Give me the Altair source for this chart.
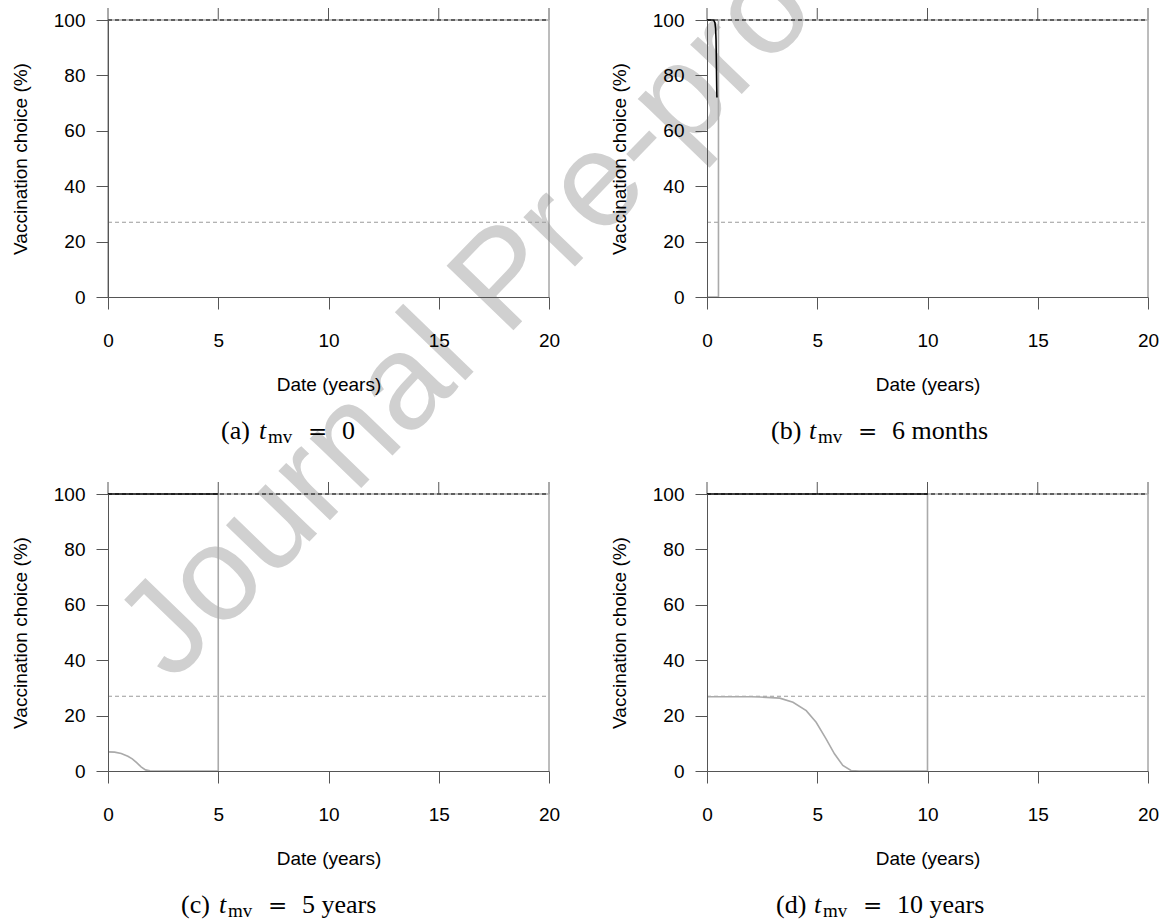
import altair as alt
import pandas as pd

# ---------------- data ----------------
letters = ["(a)", "(b)", "(c)", "(d)"]
cap_values = ["0", "6 months", "5 years", "10 years"]

ref_high = 100      # black dashed reference level
ref_low = 27        # grey dashed reference level

gray_t_a = [0, 0, 20]
gray_v_a = [0, 100, 100]
black_t_a = []
black_v_a = []

gray_t_b = [0, 0.52, 0.52, 20]
gray_v_b = [0, 0, 100, 100]
black_t_b = [0, 0.3, 0.36, 0.39, 0.41, 0.42, 0.43, 0.44, 0.45]
black_v_b = [100, 100, 99, 97, 93, 88, 82, 76, 72]

gray_t_c = [0, 0.3, 0.6, 0.9, 1.1, 1.3, 1.5, 1.7, 1.9, 2.2, 5, 5, 20]
gray_v_c = [6.9, 6.8, 6.3, 5.3, 4.4, 3.0, 1.5, 0.4, 0.05, 0, 0, 100, 100]
black_t_c = [0, 5]
black_v_c = [100, 100]

gray_t_d = [0, 1, 2, 2.4, 3.3, 3.9, 4.5, 4.95, 5.4, 5.78, 6.16, 6.53, 6.9, 10, 10, 20]
gray_v_d = [26.8, 26.8, 26.8, 26.7, 26.3, 24.8, 21.8, 17.6, 11.6, 6.2, 2.0, 0.2, 0, 0, 100, 100]
black_t_d = [0, 10]
black_v_d = [100, 100]

x_ticks = [0, 5, 10, 15, 20]
y_ticks = [0, 20, 40, 60, 80, 100]

gray_t = [gray_t_a, gray_t_b, gray_t_c, gray_t_d]
gray_v = [gray_v_a, gray_v_b, gray_v_c, gray_v_d]
black_t = [black_t_a, black_t_b, black_t_c, black_t_d]
black_v = [black_v_a, black_v_b, black_v_c, black_v_d]

# ---------------- styling ----------------
W, H = 441, 277
SANS = "Liberation Sans"
SERIF = "Liberation Serif"
AX = "#555555"
cap_start = [113, 64, 73, 69]

xenc = alt.X("t:Q", scale=alt.Scale(domain=[0, 20], nice=False, zero=False),
             axis=alt.Axis(values=x_ticks, title="Date (years)", grid=False,
                           tickSize=12, labelPadding=22, titlePadding=25,
                           domainColor=AX, tickColor=AX, labelColor="black",
                           titleColor="black", labelFont=SANS, titleFont=SANS,
                           labelFontSize=19, titleFontSize=19, titleFontWeight="normal",
                           labelFlush=False, labelOverlap=False, zindex=1))
yenc = alt.Y("v:Q", scale=alt.Scale(domain=[0, 100], nice=False),
             axis=alt.Axis(values=y_ticks, title="Vaccination choice (%)", grid=False,
                           tickSize=12, labelPadding=11, titlePadding=23,
                           domainColor=AX, tickColor=AX, labelColor="black",
                           titleColor="black", labelFont=SANS, titleFont=SANS,
                           labelFontSize=19, titleFontSize=19, titleFontWeight="normal",
                           labelFlush=False, labelOverlap=False, zindex=1))


def panel(i):
    layers = []
    if i == 0:
        layers.append(
            alt.Chart(pd.DataFrame({"t": [0]})).mark_text(
                text="Journal Pre-proof", angle=314, fontSize=135, font=SANS,
                color="#d0d0d0", align="center", baseline="middle"
            ).encode(x=alt.value(397), y=alt.value(260))
        )
    ref_lo = pd.DataFrame({"t": [0, 20], "v": [ref_low, ref_low]})
    ref_hi = pd.DataFrame({"t": [0, 20], "v": [ref_high, ref_high]})
    g = pd.DataFrame({"t": gray_t[i], "v": gray_v[i]})
    b = pd.DataFrame({"t": black_t[i], "v": black_v[i]})
    border = pd.DataFrame({"t": [20], "v": [0], "v2": [100]})
    ticks = pd.DataFrame({"t": x_ticks})

    layers.append(alt.Chart(ref_lo).mark_line(color="#9a9a9a", strokeWidth=1.1,
                                               strokeDash=[4, 3]).encode(x=xenc, y=yenc))
    layers.append(alt.Chart(border).mark_rule(color="#7a7a7a", strokeWidth=1)
                  .encode(x=xenc, y=yenc, y2="v2:Q"))
    layers.append(alt.Chart(ticks).mark_rule(color=AX, strokeWidth=1)
                  .encode(x=xenc, y=alt.value(-12), y2=alt.value(0)))
    layers.append(alt.Chart(g).mark_line(color="#aaaaaa", strokeWidth=1.6)
                  .encode(x=xenc, y=yenc, order="idx:Q")
                  .transform_window(idx="row_number()"))
    if len(black_t[i]) > 0:
        layers.append(alt.Chart(b).mark_line(color="black", strokeWidth=1.6)
                      .encode(x=xenc, y=yenc, order="idx:Q")
                      .transform_window(idx="row_number()"))
    layers.append(alt.Chart(ref_hi).mark_line(color="black", strokeWidth=1.2,
                                               strokeDash=[4, 3]).encode(x=xenc, y=yenc))

    s = cap_start[i]
    base = 419
    one = pd.DataFrame({"t": [0]})
    layers.append(alt.Chart(one).mark_text(text=letters[i], font=SERIF, fontSize=26,
                                           align="left", baseline="alphabetic", color="black")
                  .encode(x=alt.value(s), y=alt.value(base)))
    layers.append(alt.Chart(one).mark_text(text="t", font=SERIF, fontSize=26, fontStyle="italic",
                                           align="left", baseline="alphabetic", color="black")
                  .encode(x=alt.value(s + 38), y=alt.value(base)))
    layers.append(alt.Chart(one).mark_text(text="mv", font=SERIF, fontSize=19,
                                           align="left", baseline="alphabetic", color="black")
                  .encode(x=alt.value(s + 47), y=alt.value(base + 4)))
    layers.append(alt.Chart(one).mark_text(text="=", font="DejaVu Serif", fontSize=23,
                                           align="left", baseline="alphabetic", color="black")
                  .encode(x=alt.value(s + 87), y=alt.value(base)))
    layers.append(alt.Chart(one).mark_text(text=cap_values[i], font=SERIF, fontSize=26,
                                           align="left", baseline="alphabetic", color="black")
                  .encode(x=alt.value(s + 121), y=alt.value(base)))

    return alt.layer(*layers).properties(width=W, height=H)


chart = alt.concat(panel(0), panel(1), panel(2), panel(3), columns=2,
                   spacing={"row": 197, "column": 158}, bounds="flush") \
    .properties(padding={"left": 11, "top": -142, "right": 0, "bottom": 0},
                background="white") \
    .configure_view(strokeWidth=0)

chart.save("out.html", embed_options={"renderer": "svg", "actions": False})
